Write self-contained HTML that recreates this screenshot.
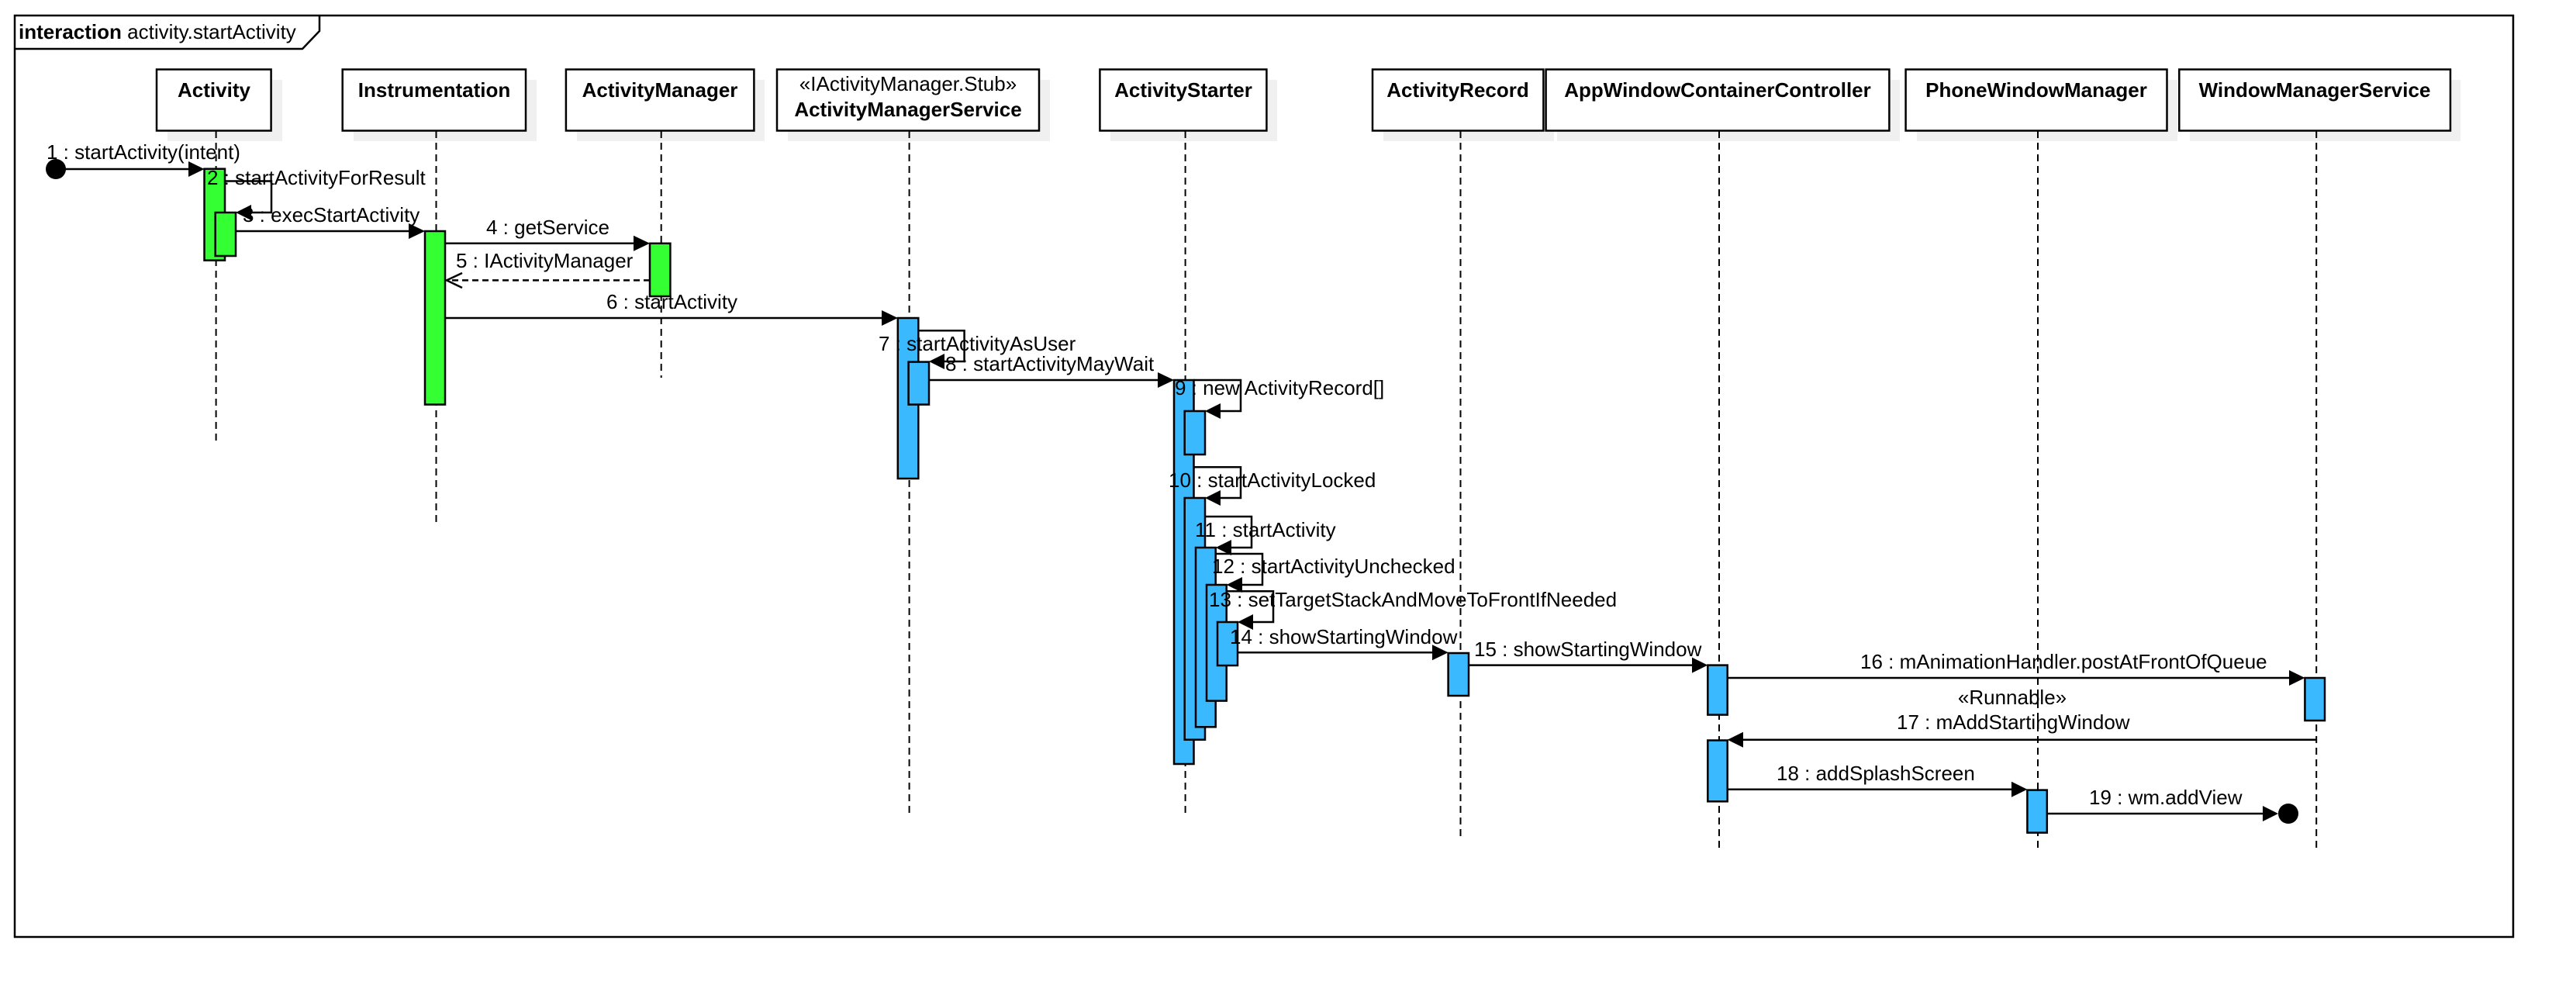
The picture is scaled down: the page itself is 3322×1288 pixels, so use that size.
<!DOCTYPE html>
<html><head><meta charset="utf-8"><style>
html,body{margin:0;padding:0;background:#fff;}
svg{display:block;}
text{font-family:"Liberation Sans",Arial,sans-serif;font-size:26px;fill:#000;}
.b{font-weight:bold;}
.box{fill:#fff;stroke:#000;stroke-width:2.5;}
.sh{fill:#f0f0f0;}
.ll{stroke:#000;stroke-width:2;stroke-dasharray:9,6;fill:none;}
.g{fill:#33ff33;stroke:#000;stroke-width:2.5;}
.bl{fill:#3bb9ff;stroke:#000;stroke-width:2.5;}
.m{stroke:#000;stroke-width:2.5;fill:none;}
.h{fill:#000;}
</style></head><body>
<svg width="3322" height="1288" viewBox="0 0 3322 1288" xmlns="http://www.w3.org/2000/svg">
<rect x="19" y="20" width="3222" height="1188" fill="#fff" stroke="#000" stroke-width="2.5"/>
<path d="M19 63 L390 63 L412 40 L412 20" fill="none" stroke="#000" stroke-width="2.5"/>
<text x="24" y="50"><tspan class="b">interaction</tspan> activity.startActivity</text>

<g>
<rect class="sh" x="216" y="103" width="148" height="79"/>
<rect class="sh" x="456" y="103" width="236" height="79"/>
<rect class="sh" x="744" y="103" width="242" height="79"/>
<rect class="sh" x="1016" y="103" width="338" height="79"/>
<rect class="sh" x="1432" y="103" width="215" height="79"/>
<rect class="sh" x="1784" y="103" width="220" height="79"/>
<rect class="sh" x="2008" y="103" width="442" height="79"/>
<rect class="sh" x="2472" y="103" width="336" height="79"/>
<rect class="sh" x="2824" y="103" width="349" height="79"/>
</g>

<g>
<line class="ll" x1="278.6" y1="169" x2="278.6" y2="571"/>
<line class="ll" x1="562.5" y1="169" x2="562.5" y2="678"/>
<line class="ll" x1="852.7" y1="169" x2="852.7" y2="487"/>
<line class="ll" x1="1172.6" y1="169" x2="1172.6" y2="1049"/>
<line class="ll" x1="1528.6" y1="169" x2="1528.6" y2="1049"/>
<line class="ll" x1="1883.5" y1="169" x2="1883.5" y2="1084"/>
<line class="ll" x1="2217" y1="169" x2="2217" y2="1099"/>
<line class="ll" x1="2628" y1="169" x2="2628" y2="1099"/>
<line class="ll" x1="2987.2" y1="169" x2="2987.2" y2="1099"/>
</g>

<g><rect class="box" x="202" y="89.5" width="147.6" height="79"/><text class="b" x="276" y="125" text-anchor="middle">Activity</text></g>
<g><rect class="box" x="441.7" y="89.5" width="236.3" height="79"/><text class="b" x="560" y="125" text-anchor="middle">Instrumentation</text></g>
<g><rect class="box" x="729.9" y="89.5" width="242.5" height="79"/><text class="b" x="851" y="125" text-anchor="middle">ActivityManager</text></g>
<g><rect class="box" x="1002" y="89.5" width="338" height="79"/><text x="1171" y="117" text-anchor="middle">«IActivityManager.Stub»</text><text class="b" x="1171" y="150" text-anchor="middle">ActivityManagerService</text></g>
<g><rect class="box" x="1418.4" y="89.5" width="215" height="79"/><text class="b" x="1526" y="125" text-anchor="middle">ActivityStarter</text></g>
<g><rect class="box" x="1770" y="89.5" width="220.4" height="79"/><text class="b" x="1880" y="125" text-anchor="middle">ActivityRecord</text></g>
<g><rect class="box" x="1993.6" y="89.5" width="442.8" height="79"/><text class="b" x="2215" y="125" text-anchor="middle">AppWindowContainerController</text></g>
<g><rect class="box" x="2457.6" y="89.5" width="336.9" height="79"/><text class="b" x="2626" y="125" text-anchor="middle">PhoneWindowManager</text></g>
<g><rect class="box" x="2810.3" y="89.5" width="349.7" height="79"/><text class="b" x="2985" y="125" text-anchor="middle">WindowManagerService</text></g>

<g>
<rect class="g" x="263.5" y="217.7" width="26.5" height="118"/>
<rect class="g" x="277.7" y="274" width="26.3" height="56"/>
<rect class="g" x="548" y="298" width="26" height="223.6"/>
<rect class="g" x="838" y="313.8" width="26.4" height="68.2"/>
<rect class="bl" x="1157.8" y="410" width="26.5" height="207"/>
<rect class="bl" x="1171.6" y="466.6" width="26.4" height="55"/>
<rect class="bl" x="1514" y="490" width="25.5" height="495"/>
<rect class="bl" x="1527.7" y="530" width="26.3" height="56"/>
<rect class="bl" x="1527.7" y="642" width="26.3" height="311.7"/>
<rect class="bl" x="1542" y="706" width="25.7" height="231.3"/>
<rect class="bl" x="1556" y="754" width="25.7" height="149.6"/>
<rect class="bl" x="1570" y="802" width="26" height="56"/>
<rect class="bl" x="1867.6" y="842" width="26.4" height="55"/>
<rect class="bl" x="2202.3" y="857.6" width="25.4" height="64"/>
<rect class="bl" x="2202.3" y="954.5" width="25.4" height="78.8"/>
<rect class="bl" x="2972.4" y="874" width="25.6" height="55"/>
<rect class="bl" x="2614.4" y="1018.6" width="25.4" height="55"/>
</g>

<g>
<ellipse cx="72" cy="218" rx="13" ry="13" class="h"/>
<line class="m" x1="72" y1="218" x2="250" y2="218"/><path class="h" d="M263.5 218 L243 208 L243 228 Z"/>
<text x="60" y="205">1 : startActivity(intent)</text></g>
<g>
<path class="m" d="M290 233.5 H350 V274 H310"/><path class="h" d="M304 274 L324 264 L324 284 Z"/>
<text x="267" y="238">2 : startActivityForResult</text></g>
<g>
<line class="m" x1="304" y1="298" x2="535" y2="298"/><path class="h" d="M548 298 L527 288 L527 308 Z"/>
<text x="313" y="286">3 : execStartActivity</text></g>
<g>
<line class="m" x1="574" y1="313.8" x2="825" y2="313.8"/><path class="h" d="M838 313.8 L817 303.8 L817 323.8 Z"/>
<text x="627" y="302">4 : getService</text></g>
<g>
<line class="m" x1="838" y1="361.4" x2="576" y2="361.4" stroke-dasharray="8,5"/><path class="m" d="M596 352 L576 361.4 L596 371" stroke-width="2"/>
<text x="588" y="345">5 : IActivityManager</text></g>
<g>
<line class="m" x1="574" y1="410" x2="1145" y2="410"/><path class="h" d="M1157.8 410 L1137 400 L1137 420 Z"/>
<text x="782" y="398">6 : startActivity</text></g>
<g>
<path class="m" d="M1184.3 426.3 H1243.6 V466 H1205"/><path class="h" d="M1198 466 L1218 456 L1218 476 Z"/>
<text x="1133" y="452">7 : startActivityAsUser</text></g>
<g>
<line class="m" x1="1198" y1="490" x2="1501" y2="490"/><path class="h" d="M1514 490 L1493 480 L1493 500 Z"/>
<text x="1219" y="478">8 : startActivityMayWait</text></g>
<g>
<path class="m" d="M1539.3 490 H1600 V530 H1560"/><path class="h" d="M1554 530 L1574 520 L1574 540 Z"/>
<text x="1515" y="509">9 : new ActivityRecord[]</text></g>
<g>
<path class="m" d="M1539.3 602.3 H1600 V642 H1560"/><path class="h" d="M1554 642 L1574 632 L1574 652 Z"/>
<text x="1507" y="628">10 : startActivityLocked</text></g>
<g>
<path class="m" d="M1554 666 H1614 V706 H1574"/><path class="h" d="M1567.7 706 L1588 696 L1588 716 Z"/>
<text x="1541" y="692">11 : startActivity</text></g>
<g>
<path class="m" d="M1567.7 714 H1628 V754 H1588"/><path class="h" d="M1581.7 754 L1602 744 L1602 764 Z"/>
<text x="1563" y="739">12 : startActivityUnchecked</text></g>
<g>
<path class="m" d="M1581.7 762.3 H1642 V802 H1602"/><path class="h" d="M1596 802 L1616 792 L1616 812 Z"/>
<text x="1559" y="782">13 : setTargetStackAndMoveToFrontIfNeeded</text></g>
<g>
<line class="m" x1="1596" y1="841.3" x2="1855" y2="841.3"/><path class="h" d="M1867.6 841.3 L1847 831.3 L1847 851.3 Z"/>
<text x="1586" y="830">14 : showStartingWindow</text></g>
<g>
<line class="m" x1="1894" y1="857.6" x2="2190" y2="857.6"/><path class="h" d="M2202.3 857.6 L2182 847.6 L2182 867.6 Z"/>
<text x="1901" y="846">15 : showStartingWindow</text></g>
<g>
<line class="m" x1="2227.7" y1="874" x2="2960" y2="874"/><path class="h" d="M2972.4 874 L2952 864 L2952 884 Z"/>
<text x="2399" y="862">16 : mAnimationHandler.postAtFrontOfQueue</text></g>
<g>
<line class="m" x1="2987.2" y1="953.7" x2="2240" y2="953.7"/><path class="h" d="M2227.7 953.7 L2248 943.7 L2248 963.7 Z"/>
<text x="2595" y="908" text-anchor="middle">«Runnable»</text>
<text x="2446" y="940">17 : mAddStartingWindow</text></g>
<g>
<line class="m" x1="2227.7" y1="1017.8" x2="2602" y2="1017.8"/><path class="h" d="M2614.4 1017.8 L2594 1007.8 L2594 1027.8 Z"/>
<text x="2291" y="1006">18 : addSplashScreen</text></g>
<g>
<line class="m" x1="2639.8" y1="1049" x2="2925" y2="1049"/><path class="h" d="M2938 1049 L2918 1039 L2918 1059 Z"/>
<ellipse cx="2951" cy="1049" rx="13" ry="13" class="h"/>
<text x="2694" y="1037">19 : wm.addView</text></g>
</svg>
</body></html>
